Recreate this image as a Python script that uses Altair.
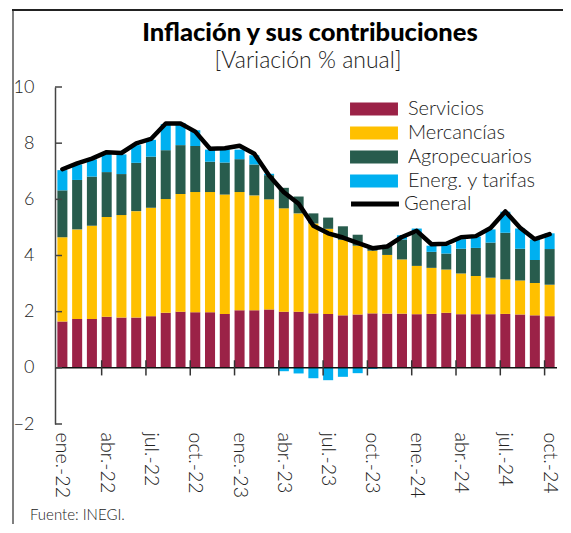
import altair as alt
import pandas as pd

meses = ["ene.-22", "feb.-22", "mar.-22", "abr.-22", "may.-22", "jun.-22", "jul.-22", "ago.-22", "sep.-22", "oct.-22", "nov.-22", "dic.-22",
         "ene.-23", "feb.-23", "mar.-23", "abr.-23", "may.-23", "jun.-23", "jul.-23", "ago.-23", "sep.-23", "oct.-23", "nov.-23", "dic.-23",
         "ene.-24", "feb.-24", "mar.-24", "abr.-24", "may.-24", "jun.-24", "jul.-24", "ago.-24", "sep.-24", "oct.-24"]

servicios = [1.65, 1.74, 1.74, 1.82, 1.79, 1.79, 1.84, 1.96, 2.00, 1.98, 1.98, 1.92,
             2.05, 2.05, 2.08, 2.00, 2.00, 1.94, 1.92, 1.87, 1.90, 1.94, 1.93, 1.93,
             1.91, 1.92, 1.96, 1.91, 1.91, 1.91, 1.92, 1.90, 1.87, 1.84]
mercancias = [3.00, 3.19, 3.32, 3.55, 3.65, 3.79, 3.86, 4.05, 4.19, 4.28, 4.28, 4.25,
              4.21, 4.09, 3.92, 3.68, 3.50, 3.20, 3.03, 2.69, 2.45, 2.23, 2.09, 1.93,
              1.72, 1.64, 1.54, 1.45, 1.36, 1.30, 1.23, 1.21, 1.15, 1.12]
agropecuarios = [1.67, 1.76, 1.75, 1.60, 1.46, 1.72, 1.82, 1.74, 1.74, 1.64, 1.08, 1.14,
                 1.17, 1.10, 0.86, 0.73, 0.60, 0.36, 0.40, 0.48, 0.39, 0.08, 0.36, 0.71,
                 1.16, 0.57, 0.57, 0.88, 1.00, 1.25, 1.66, 1.13, 0.82, 1.27]
energeticos = [0.72, 0.55, 0.61, 0.66, 0.70, 0.63, 0.60, 0.93, 0.79, 0.56, 0.43, 0.46,
               0.34, 0.33, 0.05, -0.12, -0.20, -0.37, -0.44, -0.32, -0.19, -0.04, -0.02, 0.15,
               0.17, 0.22, 0.30, 0.34, 0.40, 0.47, 0.75, 0.72, 0.73, 0.56]
general = [7.07, 7.28, 7.45, 7.68, 7.65, 7.99, 8.15, 8.70, 8.70, 8.41, 7.80, 7.82,
           7.91, 7.62, 6.85, 6.25, 5.84, 5.06, 4.79, 4.64, 4.45, 4.26, 4.32, 4.66,
           4.88, 4.40, 4.42, 4.65, 4.69, 4.98, 5.57, 4.99, 4.58, 4.76]

series = ["Servicios", "Mercancías", "Agropecuarios", "Energ. y tarifas"]
colores = ["#9B2247", "#FFC000", "#285C4D", "#00B0F0"]
trimestres = [m for m in meses if m[:3] in ("ene", "abr", "jul", "oct")]
y_ticks = [-2, 0, 2, 4, 6, 8, 10]

titulo = "Inflación y sus contribuciones"
subtitulo = "[Variación % anual]"
fuente_txt = "Fuente: INEGI."

FONT = "Lato"
W, H = 502, 337
Y_MARCO = 10 + 77 / (H / 12)   # frame line sits 77 px above the plot top

rows = []
for i, m in enumerate(meses):
    for k, (s, vals) in enumerate(zip(series, [servicios, mercancias, agropecuarios, energeticos])):
        rows.append({"mes": m, "serie": s, "valor": vals[i], "orden": k})
df_bars = pd.DataFrame(rows)
df_line = pd.DataFrame({"mes": meses, "valor": general, "serie": "General"})
df_q = pd.DataFrame({"mes": trimestres[1:], "a": 0.27, "b": -0.27})
df_yt = pd.DataFrame({"v": y_ticks})

xscale = alt.Scale(domain=meses, paddingInner=0.32, paddingOuter=0.16)
yscale = alt.Scale(domain=[-2, 10], nice=False)

xaxis = alt.Axis(values=trimestres, labelAngle=90, domain=False, ticks=False,
                 labelPadding=8, labelFontSize=19.5, labelFont=FONT, labelFontWeight=300,
                 labelColor="#222", title=None, grid=False)
yaxis = alt.Axis(values=y_ticks, ticks=False, labelPadding=21, labelFontSize=18,
                 labelFont=FONT, labelFontWeight=300, labelColor="#222",
                 domainColor="#444", domainWidth=1.5, grid=False, title=None)

bars = alt.Chart(df_bars).mark_bar().encode(
    x=alt.X("mes:N", scale=xscale, sort=None, axis=xaxis, title=None),
    y=alt.Y("valor:Q", stack="zero", scale=yscale, axis=yaxis, title=None),
    color=alt.Color("serie:N", scale=alt.Scale(domain=series, range=colores),
                    legend=alt.Legend(orient="none", legendX=309, legendY=12, title=None,
                                      symbolType="M-2.82,-0.76L2.82,-0.76L2.82,0.76L-2.82,0.76Z",
                                      symbolSize=289, symbolStrokeWidth=0, symbolOpacity=1,
                                      labelFontSize=20, labelFont=FONT, labelFontWeight=300,
                                      labelColor="#222", labelOffset=24, rowPadding=4, padding=0)),
    order=alt.Order("orden:Q"),
)

zero = alt.Chart(pd.DataFrame({"v": [0]})).mark_rule(color="#111", strokeWidth=1.5).encode(
    y=alt.Y("v:Q", scale=yscale, title=None))

qticks = alt.Chart(df_q).mark_rule(color="#333", strokeWidth=1.5).encode(
    x=alt.X("mes:N", scale=xscale, sort=None, bandPosition=0, title=None),
    y=alt.Y("a:Q", scale=yscale, title=None),
    y2="b:Q",
)

yticks = alt.Chart(df_yt).mark_rule(color="#444", strokeWidth=1.5).encode(
    x=alt.value(0), x2=alt.value(7),
    y=alt.Y("v:Q", scale=yscale, title=None),
)

line = alt.Chart(df_line).mark_line(strokeWidth=4.5, strokeJoin="round", strokeCap="round").encode(
    x=alt.X("mes:N", scale=xscale, sort=None, title=None),
    y=alt.Y("valor:Q", scale=yscale, title=None),
    stroke=alt.Stroke("serie:N", scale=alt.Scale(domain=["General"], range=["black"]),
                      legend=alt.Legend(orient="none", legendX=309, legendY=106, title=None,
                                        symbolType="M-2.82,0L2.82,0", symbolSize=289,
                                        symbolStrokeWidth=5,
                                        labelFontSize=20, labelFont=FONT, labelFontWeight=300,
                                        labelColor="#222", labelOffset=18, padding=0)),
)

t_title = alt.Chart(pd.DataFrame({"t": [titulo]})).mark_text(
    align="center", baseline="middle", fontSize=25.5, font=FONT, fontWeight=900, color="black"
).encode(x=alt.value(W / 2 + 4), y=alt.value(-54), text="t:N")
t_sub = alt.Chart(pd.DataFrame({"t": [subtitulo]})).mark_text(
    align="center", baseline="middle", fontSize=23, font=FONT, fontWeight=300, color="#222"
).encode(x=alt.value(W / 2 + 2), y=alt.value(-26), text="t:N")

fuente = alt.Chart(pd.DataFrame({"t": [fuente_txt]})).mark_text(
    align="left", baseline="middle", fontSize=15, font=FONT, fontWeight=300, color="#222"
).encode(x=alt.value(-25), y=alt.value(428), text="t:N")

marco_izq = alt.Chart(pd.DataFrame({"a": [0]})).mark_rule(
    color="#555", strokeWidth=1.5).encode(
    x=alt.value(-42), y=alt.value(-78), y2=alt.value(H + 110))
marco_sup = alt.Chart(pd.DataFrame({"ym": [Y_MARCO]})).mark_rule(
    color="#222", strokeWidth=2).encode(
    x=alt.value(-43), x2=alt.value(W + 6),
    y=alt.Y("ym:Q", scale=yscale, title=None))

chart = alt.layer(bars, zero, qticks, yticks, line, t_title, t_sub, fuente, marco_izq, marco_sup).resolve_scale(
    color="independent"
).properties(
    width=W, height=H,
    autosize=alt.AutoSizeParams(type="none"),
    padding={"left": 47, "top": 79, "right": 6, "bottom": 100},
).configure_view(strokeWidth=0)

chart.save("out.html", embed_options={"renderer": "svg", "actions": False})
